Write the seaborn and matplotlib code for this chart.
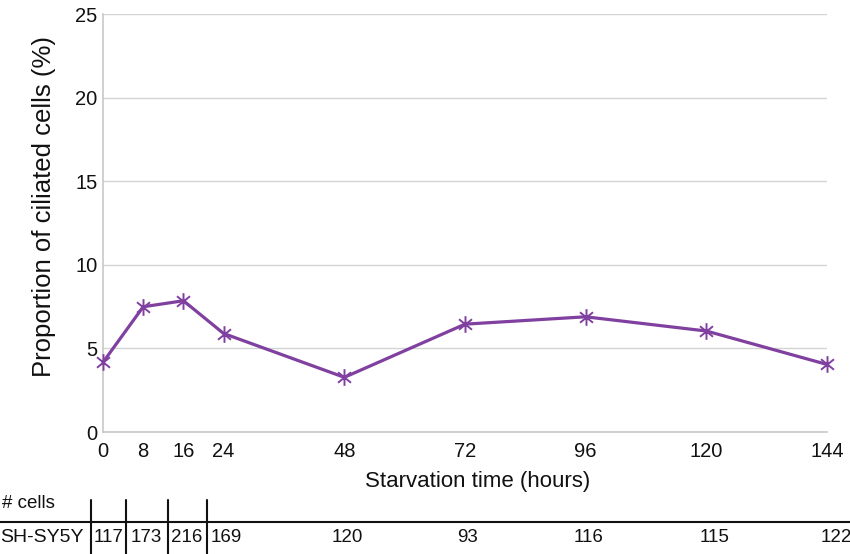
import matplotlib
matplotlib.use("Agg")
import matplotlib.pyplot as plt
import seaborn as sns
import pandas as pd
from matplotlib.lines import Line2D
from matplotlib.path import Path

# ---- data ----
hours = [0, 8, 16, 24, 48, 72, 96, 120, 144]
ciliated_pct = [4.17, 7.49, 7.85, 5.89, 3.27, 6.45, 6.89, 6.04, 4.04]
cell_counts = [117, 173, 216, 169, 120, 93, 116, 115, 122]
cell_line = "SH-SY5Y"
y_ticks = [0, 5, 10, 15, 20, 25]

# ---- layout (pixel positions for table) ----
W, H = 850, 554
count_x_px = [108.5, 146.5, 186.5, 226.5, 347.5, 468, 589, 715, 836]
divider_x_px = [90.7, 126, 167.7, 207.3]

# asterisk marker: vertical bar plus an X
_c, _s = 0.78, 0.63
ast_marker = Path(
    [(0, -1), (0, 1), (-_c, -_s), (_c, _s), (-_c, _s), (_c, -_s)],
    [Path.MOVETO, Path.LINETO, Path.MOVETO, Path.LINETO, Path.MOVETO, Path.LINETO],
)

sns.set_style("white")
plt.rcParams["font.family"] = ["Liberation Sans", "DejaVu Sans"]

fig = plt.figure(figsize=(W / 100, H / 100), dpi=100)
ax = fig.add_axes([103 / W, 1 - 432 / H, (827 - 103) / W, (432 - 14) / H])

df = pd.DataFrame({"hours": hours, "pct": ciliated_pct})
purple = "#8040a0"
sns.lineplot(data=df, x="hours", y="pct", ax=ax, color=purple, linewidth=2.3,
             marker=ast_marker, markersize=12, markeredgewidth=1.4,
             markeredgecolor=purple, markerfacecolor="none", clip_on=False, zorder=5)

ax.set_xlim(0, 144)
ax.set_ylim(0, 25)
ax.set_xticks(hours)
ax.set_xticklabels([str(h) for h in hours])
ax.set_yticks(y_ticks)
ax.set_yticklabels([str(t) for t in y_ticks])
ax.tick_params(axis="both", length=0, labelsize=14.5, colors="#111111")
ax.tick_params(axis="x", pad=7)
ax.tick_params(axis="y", pad=4)
ax.yaxis.grid(True, color="#d4d4d4", linewidth=1.0)
ax.xaxis.grid(False)
for s in ["top", "right"]:
    ax.spines[s].set_visible(False)
for s in ["left", "bottom"]:
    ax.spines[s].set_color("#c8c8c8")
    ax.spines[s].set_linewidth(1.2)

ax.set_xlabel("Starvation time (hours)", fontsize=16, color="#111111")
ax.set_ylabel("Proportion of ciliated cells (%)", fontsize=18.5, color="#111111")
ax.xaxis.set_label_coords((478 - 103) / (827 - 103), -(481 - 432) / (432 - 14), transform=ax.transAxes)
ax.xaxis.label.set_va("center")
ax.yaxis.set_label_coords(-(103 - 44) / (827 - 103), 0.54)
ax.yaxis.label.set_va("center")

# ---- table below ----
def fx(px):
    return px / W

def fy(py):
    return 1 - py / H

fig.text(fx(2), fy(503), "# cells", fontsize=13.5, ha="left", va="center", color="#111111")
fig.add_artist(Line2D([0, 1], [fy(521.5), fy(521.5)], transform=fig.transFigure,
                      color="#111111", linewidth=1.5))
for xd in divider_x_px:
    fig.add_artist(Line2D([fx(xd), fx(xd)], [fy(500), fy(554)], transform=fig.transFigure,
                          color="#111111", linewidth=1.5))
fig.text(fx(0), fy(538), cell_line, fontsize=14, ha="left", va="center", color="#111111")
for xc, n in zip(count_x_px, cell_counts):
    fig.text(fx(xc), fy(538), str(n), fontsize=13.5, ha="center", va="center", color="#111111")

fig.savefig("out.png", dpi=100)
